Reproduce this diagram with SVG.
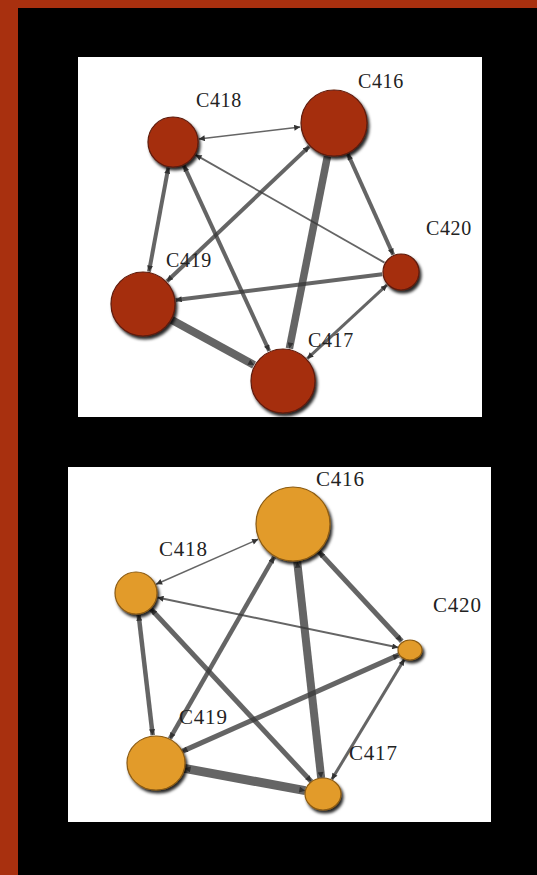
<svg xmlns="http://www.w3.org/2000/svg" width="537" height="875" viewBox="0 0 537 875">
  <style>
    .edge { stroke: #3a3a3a; stroke-opacity: 0.78; fill: none; stroke-linecap: butt; }
    .both { marker-start: url(#ah); marker-end: url(#ah); }
    .fwd { marker-end: url(#ah); }
    .rev { marker-start: url(#ah); }
    .rust { fill: #A52F10; stroke: #5E1A08; stroke-width: 1.2; filter: url(#shadow); }
    .amber { fill: #E29B2B; stroke: #8C5B12; stroke-width: 1.2; filter: url(#shadow); }
    .lbl { font-family: "Liberation Serif", "Times New Roman", serif; font-size: 20px; fill: #222; letter-spacing: 0.6px; }
    .lbl2 { font-family: "Liberation Serif", "Times New Roman", serif; font-size: 21px; fill: #222; letter-spacing: 0.8px; }
  </style>
  <defs>
    <marker id="ah" viewBox="0 0 10 10" refX="10" refY="5" markerUnits="userSpaceOnUse" markerWidth="8" markerHeight="6" orient="auto-start-reverse">
      <path d="M0,0 L10,5 L0,10 z" fill="#333"/>
    </marker>
    <filter id="shadow" x="-30%" y="-30%" width="170%" height="170%">
      <feDropShadow dx="2" dy="3" stdDeviation="1.6" flood-color="#000" flood-opacity="0.85"/>
    </filter>
  </defs>

  <!-- frame -->
  <rect x="0" y="0" width="537" height="875" fill="#A8300F"/>
  <rect x="18" y="8" width="519" height="867" fill="#000"/>

  <!-- upper panel -->
  <rect id="panel-top" x="78" y="57" width="404" height="360" fill="#fff"/>
  <g id="connectors-top">
    <line class="edge both" x1="198.8" y1="139" x2="300.2" y2="127" stroke-width="1.5"/>
    <line class="edge rev" x1="195.6" y1="154.9" x2="384.5" y2="262.6" stroke-width="1.8"/>
    <line class="edge both" x1="168.3" y1="167.6" x2="149" y2="271.6" stroke-width="4"/>
    <line class="edge both" x1="183.9" y1="165.6" x2="269.2" y2="351" stroke-width="4"/>
    <line class="edge both" x1="309.3" y1="146.4" x2="167" y2="281.3" stroke-width="4"/>
    <line class="edge fwd" x1="327.4" y1="156.4" x2="289.4" y2="348.6" stroke-width="7.5"/>
    <line class="edge both" x1="347.9" y1="154" x2="393.2" y2="254.7" stroke-width="4"/>
    <line class="edge fwd" x1="382.2" y1="274.3" x2="175.7" y2="300" stroke-width="4"/>
    <line class="edge both" x1="387" y1="284.9" x2="307.3" y2="358.6" stroke-width="3"/>
    <line class="edge fwd" x1="171.9" y1="319.9" x2="254.1" y2="365.1" stroke-width="8"/>
  </g>
  <g id="t-C418"><circle class="rust" cx="173" cy="142" r="25"/><text class="lbl" x="196" y="107">C418</text></g>
  <g id="t-C416"><circle class="rust" cx="334" cy="123" r="33"/><text class="lbl" x="358" y="88">C416</text></g>
  <g id="t-C420"><circle class="rust" cx="401" cy="272" r="18"/><text class="lbl" x="426" y="235">C420</text></g>
  <g id="t-C419"><circle class="rust" cx="143" cy="304" r="32"/><text class="lbl" x="166" y="267">C419</text></g>
  <g id="t-C417"><circle class="rust" cx="283" cy="381" r="32"/><text class="lbl" x="308" y="347">C417</text></g>

  <!-- lower panel -->
  <rect id="panel-bottom" x="68" y="467" width="423" height="355" fill="#fff"/>
  <g id="connectors-bottom">
    <line class="edge both" x1="156.1" y1="584.2" x2="258.2" y2="539.3" stroke-width="1.5"/>
    <line class="edge both" x1="157.5" y1="597.5" x2="398.3" y2="647.6" stroke-width="2"/>
    <line class="edge both" x1="138.6" y1="614.8" x2="152.7" y2="735.2" stroke-width="4.5"/>
    <line class="edge both" x1="151" y1="609.1" x2="311.4" y2="781.6" stroke-width="5"/>
    <line class="edge both" x1="274.1" y1="557" x2="169.9" y2="738.7" stroke-width="4.5"/>
    <line class="edge both" x1="297.2" y1="561.8" x2="321.2" y2="778.1" stroke-width="8"/>
    <line class="edge both" x1="318.9" y1="551.9" x2="401.8" y2="641.2" stroke-width="5"/>
    <line class="edge both" x1="399" y1="654.9" x2="181.6" y2="751.6" stroke-width="5"/>
    <line class="edge both" x1="404.3" y1="659.4" x2="331.8" y2="779.4" stroke-width="3"/>
    <line class="edge both" x1="184.5" y1="768.3" x2="305.3" y2="790.7" stroke-width="9"/>
  </g>
  <g id="b-C416"><circle class="amber" cx="293" cy="524" r="37"/><text class="lbl2" x="316" y="486">C416</text></g>
  <g id="b-C418"><circle class="amber" cx="136" cy="593" r="21"/><text class="lbl2" x="159" y="556">C418</text></g>
  <g id="b-C420"><ellipse class="amber" cx="410" cy="650" rx="12" ry="10"/><text class="lbl2" x="433" y="612">C420</text></g>
  <g id="b-C419"><ellipse class="amber" cx="156" cy="763" rx="29" ry="27"/><text class="lbl2" x="179" y="724">C419</text></g>
  <g id="b-C417"><ellipse class="amber" cx="323" cy="794" rx="18" ry="16"/><text class="lbl2" x="349" y="760">C417</text></g>
</svg>
